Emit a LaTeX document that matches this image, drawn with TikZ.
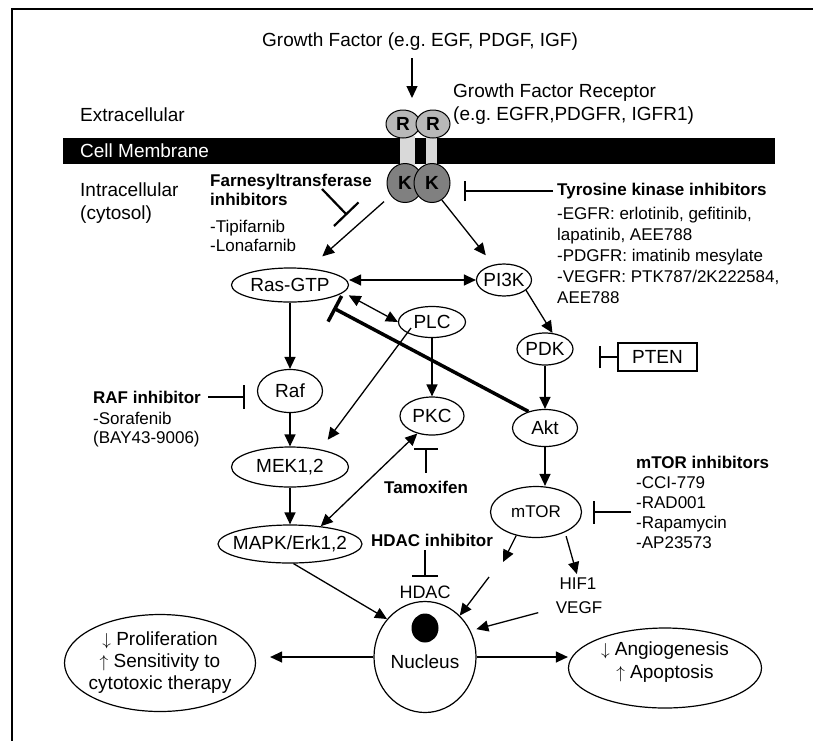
\documentclass[tikz,border=0pt]{standalone}
\usepackage{fontspec}
\setmainfont{Liberation Sans}
\usetikzlibrary{arrows.meta,shapes.geometric,calc}
\definecolor{rgrey}{gray}{0.72}
\definecolor{kgrey}{gray}{0.5}
\definecolor{stalk}{gray}{0.85}
\frenchspacing
\begin{document}
\begin{tikzpicture}[x=1pt,y=-1pt,
  font=\fontsize{19}{22}\selectfont,
  mol/.style={draw,ellipse,line width=1.2pt,inner xsep=-15pt,inner ysep=-3pt},
  lbl/.style={inner sep=0pt,anchor=west,align=left},
  bld/.style={inner sep=0pt,font=\fontsize{17}{19}\selectfont\bfseries},
  arr/.style={-{Triangle[length=12pt,width=11pt]},line width=1.3pt},
  darr/.style={{Triangle[length=12pt,width=11pt]}-{Triangle[length=12pt,width=11pt]},line width=1.3pt},
  inh/.style={-{Bar[width=#1]},line width=2.2pt},
  inh/.default=22pt]
\useasboundingbox (0,0) rectangle (813,740);
\clip (0,0) rectangle (813,740);
% frame
\draw[line width=2pt] (12,800) -- (12,9) -- (850,9);

% membrane and receptor
\fill (63,138) rectangle (775,164);
\fill[stalk] (400,136) rectangle (415,168);
\fill[stalk] (426,136) rectangle (437,168);
\node[lbl,text=white] (cm) at (80,151) {Cell Membrane};
\node[mol,line width=1pt,fill=rgrey,minimum width=34pt,minimum height=28pt,font=\fontsize{19}{22}\selectfont\bfseries] (r1) at (403,124) {R};
\node[mol,line width=1pt,fill=rgrey,minimum width=34pt,minimum height=28pt,font=\fontsize{19}{22}\selectfont\bfseries] (r2) at (433,124) {R};
\node[mol,line width=1pt,fill=kgrey,minimum width=36pt,minimum height=39pt,font=\fontsize{19}{22}\selectfont\bfseries] (k1) at (405,183) {K};
\node[mol,line width=1pt,fill=kgrey,minimum width=36pt,minimum height=39pt,font=\fontsize{19}{22}\selectfont\bfseries] (k2) at (432,183) {K};

% labels
\node[inner sep=0pt] (gf) at (420,42) {Growth Factor (e.g. EGF, PDGF, IGF)};
\node[lbl,font=\fontsize{19}{23}\selectfont] (gfr) at (453,104) {Growth Factor Receptor\\(e.g. EGFR,PDGFR, IGFR1)};
\node[lbl] (ext) at (80,115) {Extracellular};
\node[lbl,font=\fontsize{19}{23}\selectfont] (int) at (80,203) {Intracellular\\(cytosol)};
\node[lbl,bld] (fti) at (210,190) {Farnesyltransferase\\inhibitors};
\node[lbl,font=\fontsize{17}{19}\selectfont] (ftil) at (210,236) {-Tipifarnib\\-Lonafarnib};
\node[lbl,bld] (tki) at (557,191) {Tyrosine kinase inhibitors};
\node[lbl,font=\fontsize{17}{21}\selectfont] (tkil) at (557,255) {-EGFR: erlotinib, gefitinib,\\lapatinib, AEE788\\-PDGFR: imatinib mesylate\\-VEGFR: PTK787/2K222584,\\AEE788};
\node[lbl,bld] (rafi) at (93,397) {RAF inhibitor};
\node[lbl,font=\fontsize{17}{19}\selectfont] (rafl) at (93,430) {-Sorafenib\\(BAY43-9006)};
\node[bld] (tam) at (426,487) {Tamoxifen};
\node[bld] (hdaci) at (432,540) {HDAC inhibitor};
\node[inner sep=0pt,font=\fontsize{18}{22}\selectfont] (hdac) at (425,592) {HDAC};
\node[lbl,bld] (mtori) at (636,462) {mTOR inhibitors};
\node[lbl,font=\fontsize{17}{20}\selectfont] (mtorl) at (636,513) {-CCI-779\\-RAD001\\-Rapamycin\\-AP23573};
\node[inner sep=0pt,font=\fontsize{17}{20}\selectfont] (hif) at (578,584) {HIF1};
\node[inner sep=0pt,font=\fontsize{17}{20}\selectfont] (vegf) at (579,608) {VEGF};

% signalling molecules
\node[mol,minimum width=117pt,minimum height=34pt] (ras) at (290,285) {Ras-GTP};
\node[mol,minimum width=55pt,minimum height=32pt] (pi3k) at (504,280) {PI3K};
\node[mol,minimum width=67pt,minimum height=31pt] (plc) at (432,322) {PLC};
\node[mol,minimum width=56pt,minimum height=32pt] (pdk) at (545,349) {PDK};
\node[draw,line width=2pt,minimum width=79pt,minimum height=28pt,inner sep=0pt] (pten) at (657.5,357) {PTEN};
\node[mol,minimum width=65pt,minimum height=43pt] (raf) at (290,391) {Raf};
\node[mol,minimum width=64pt,minimum height=38pt] (pkc) at (432,416) {PKC};
\node[mol,minimum width=65pt,minimum height=37pt] (akt) at (545,428) {Akt};
\node[mol,minimum width=117pt,minimum height=40pt] (mek) at (290,467) {MEK1,2};
\node[mol,minimum width=144pt,minimum height=38pt] (mapk) at (290,544) {MAPK/Erk1,2};
\node[mol,minimum width=91pt,minimum height=51pt,font=\fontsize{17}{20}\selectfont] (mtor) at (536,512) {mTOR};
\node[mol,minimum width=102pt,minimum height=111pt] (nuc) at (425,657) {};
\node[ellipse,fill,minimum width=27pt,minimum height=29pt,inner sep=0pt] (dot) at (425,628) {};
\node[inner sep=0pt] (nuct) at (425,662) {Nucleus};
\node[mol,minimum width=191pt,minimum height=97pt,align=center] (prolif) at (160,663) {$\downarrow$ Proliferation\\$\uparrow$ Sensitivity to\\cytotoxic therapy};
\node[mol,minimum width=193pt,minimum height=80pt] (angio) at (665,668) {};
\node[inner sep=0pt,align=center,font=\fontsize{19}{23}\selectfont] (angiot) at (665,662) {$\downarrow$ Angiogenesis\\$\uparrow$ Apoptosis};

% free ends
\coordinate (gfa) at (412,98);
\coordinate (ftia) at (322,189);
\coordinate (ftib) at (347,215);
\coordinate (mo) at (503,562);
\coordinate (ni) at (489,577);

% arrows
\draw[arr,shorten <=7pt] (gf.south -| gfa) -- (gfa);
\draw[arr,shorten <=9pt,shorten >=18pt] (k1) -- (ras);
\draw[arr,shorten >=12pt] (k2.-60) -- (pi3k.125);
\draw[darr] (ras.east |- pi3k) -- (pi3k.west);
\draw[darr,shorten <=6pt] (ras.-8) -- (plc.west);
\draw[arr] (pi3k.-25) -- (pdk.65);
\draw[arr] (ras) -- (raf);
\draw[arr] (raf) -- (mek);
\draw[arr] (mek) -- (mapk);
\draw[arr,shorten >=12pt] ([shift={(-21,6)}]plc.center) -- (mek.30);
\draw[arr] (plc) -- (pkc);
\draw[darr] (pkc.-130) -- (mapk.30);
\draw[arr] (pdk) -- (akt);
\draw[arr] (akt) -- (akt.south |- mtor.north);
\draw[arr] (mtor.-130) -- (mo);
\draw[arr] (ni) -- (nuc.50);
\draw[arr,shorten <=4pt,shorten >=4pt] (mtor.-35) -- (hif.north);
\draw[arr,shorten <=18pt,shorten >=6pt] (vegf.west) -- (nuc.30);
\draw[arr] (mapk.-80) -- (nuc.135);
\draw[arr,shorten >=14pt] (nuc.west) -- (nuc.west -| prolif.east);
\draw[arr] (nuc.east) -- (nuc.east -| angio.west);

% inhibitions
\draw[inh=20pt,shorten <=4pt,shorten >=13pt] (tki.west) -- (tki.west -| k2.east);
\draw[inh=34pt] (ftia) -- (ftib);
\draw[inh=29pt,line width=3.5pt,shorten >=49pt] (akt.135) -- (ras.center);
\draw[inh,shorten >=25pt] (pten.west) -- (pten.west -| pdk.east);
\draw[inh=24pt,shorten <=7pt,shorten >=12pt] (rafi.east) -- (rafi.east -| raf.west);
\draw[inh=24pt,shorten <=8pt,shorten >=12pt] (tam.north) -- (tam.north |- pkc.south);
\draw[inh=26pt,shorten <=4pt,shorten >=8pt] (hdac.north |- hdaci.south) -- (hdac.north);
\draw[inh=23pt,shorten >=11pt] ($(mtorl.west |- mtor.east)+(-5,0)$) -- (mtor.east);
\end{tikzpicture}
\end{document}
